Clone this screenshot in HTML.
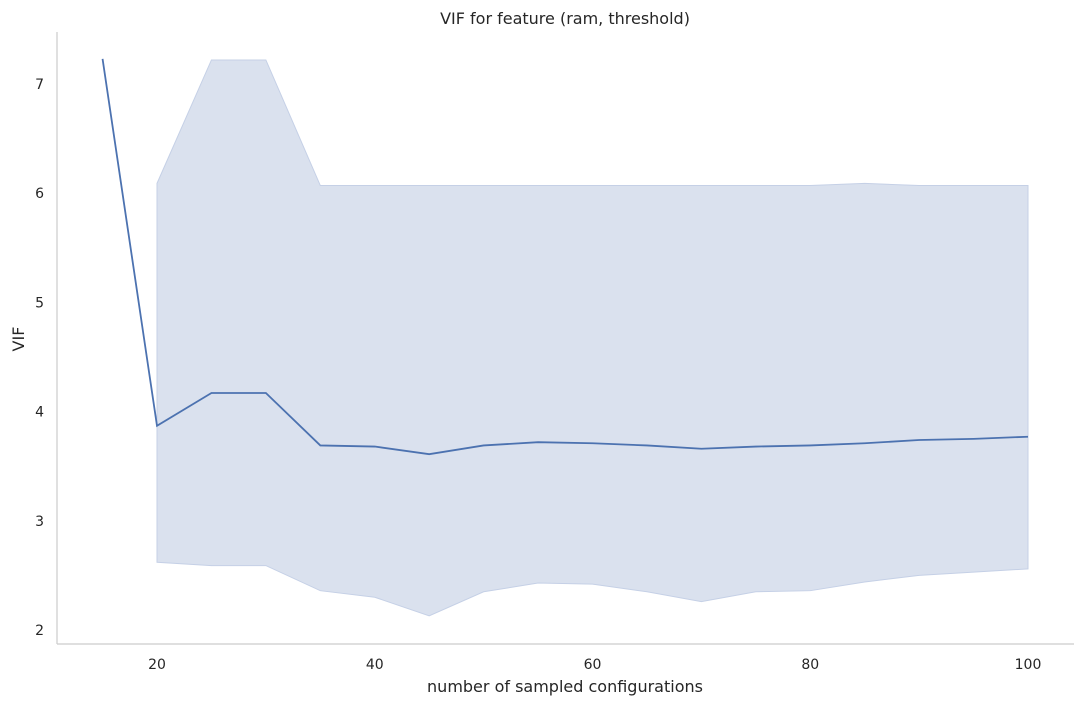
<!DOCTYPE html>
<html><head><meta charset="utf-8"><style>
body{margin:0;background:#fff;font-family:"DejaVu Sans","Liberation Sans",sans-serif;}
</style></head><body>
<svg id="chart" width="1084" height="706" xmlns="http://www.w3.org/2000/svg" font-family="DejaVu Sans, Liberation Sans, sans-serif"></svg>
<script>
const xs=[15,20,25,30,35,40,45,50,55,60,65,70,75,80,85,90,95,100];
const meanVals=[7.23,3.87,4.17,4.17,3.69,3.68,3.61,3.69,3.72,3.71,3.69,3.66,3.68,3.69,3.71,3.74,3.75,3.77];
const upperVals=[null,6.09,7.22,7.22,6.07,6.07,6.07,6.07,6.07,6.07,6.07,6.07,6.07,6.07,6.09,6.07,6.07,6.07];
const lowerVals=[null,2.62,2.59,2.59,2.36,2.30,2.13,2.35,2.43,2.42,2.35,2.26,2.35,2.36,2.44,2.50,2.53,2.56];
const xTicks=[20,40,60,80,100];
const yTicks=[2,3,4,5,6,7];
const svg=document.getElementById('chart');
const NS='http://www.w3.org/2000/svg';
const X=v=>157+(v-20)*(1028-157)/80;
const Y=v=>630-(v-2)*109.2;
function mk(tag,attrs,parent){const e=document.createElementNS(NS,tag);for(const k in attrs)e.setAttribute(k,attrs[k]);(parent||svg).appendChild(e);return e;}
let up=[],lo=[];
xs.forEach((x,i)=>{if(upperVals[i]!=null){up.push(X(x)+','+Y(upperVals[i]));lo.unshift(X(x)+','+Y(lowerVals[i]));}});
const band=mk('polygon',{points:up.concat(lo).join(' '),fill:'#dae1ee',stroke:'#c5d0e6','stroke-width':1});


const line=mk('polyline',{points:xs.map((x,i)=>X(x)+','+Y(meanVals[i])).join(' '),fill:'none',stroke:'#4c72b0','stroke-width':1.8});


const la=mk('line',{x1:57,y1:32,x2:57,y2:644,stroke:'#ccc','stroke-width':1.2});


const ba=mk('line',{x1:57,y1:644,x2:1074,y2:644,stroke:'#ccc','stroke-width':1.2});


xTicks.forEach(t=>{const e=mk('text',{x:X(t),y:669,'text-anchor':'middle','font-size':14,fill:'#262626'});e.textContent=t;

});
yTicks.forEach(t=>{const e=mk('text',{x:44,y:Y(t)+5,'text-anchor':'end','font-size':14,fill:'#262626'});e.textContent=t;

});
const xt=mk('text',{x:565,y:692,'text-anchor':'middle','font-size':16,fill:'#262626'});xt.textContent='number of sampled configurations';


const yt=mk('text',{x:24,y:339,'text-anchor':'middle','font-size':16,fill:'#262626',transform:'rotate(-90 24 339)'});yt.textContent='VIF';


const tt=mk('text',{x:565,y:24,'text-anchor':'middle','font-size':16,fill:'#262626'});tt.textContent='VIF for feature (ram, threshold)';


</script>
</body></html>
